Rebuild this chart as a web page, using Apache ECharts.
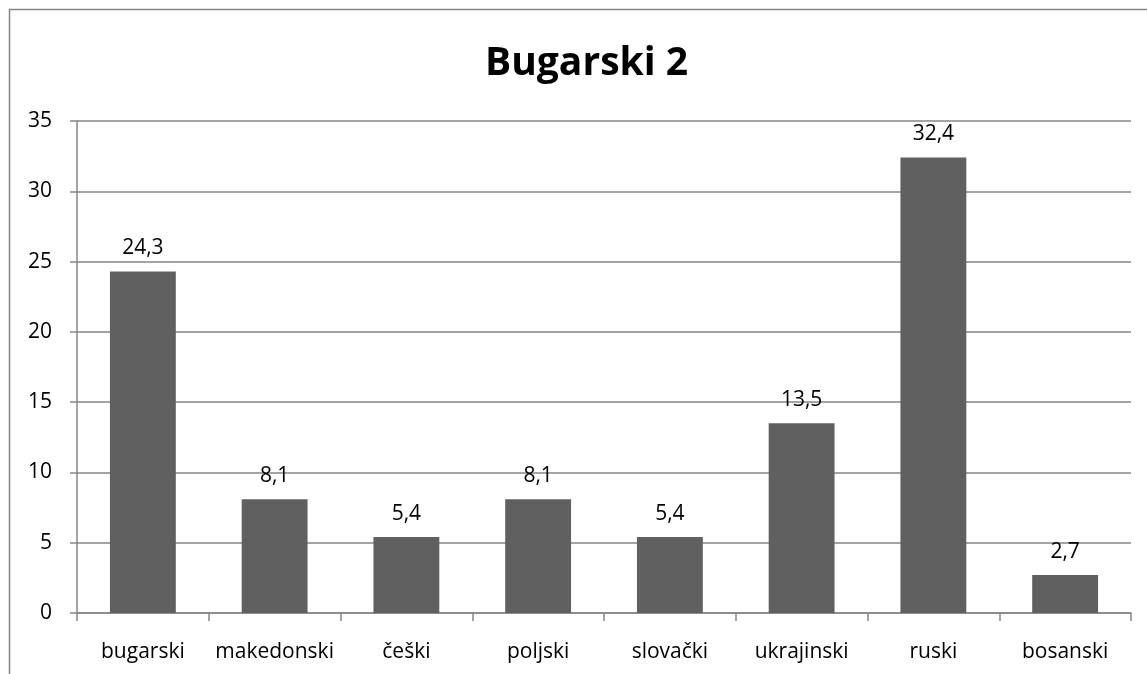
<!DOCTYPE html>
<html>
<head>
<meta charset="utf-8">
<script src="https://cdn.jsdelivr.net/npm/echarts@6/dist/echarts.min.js"></script>
<style>
html, body { margin: 0; padding: 0; background: #fff; }
#main { width: 1147px; height: 674px; }
</style>
</head>
<body>
<div id="main"></div>
<script>
var categories = ['bugarski', 'makedonski', 'češki', 'poljski', 'slovački', 'ukrajinski', 'ruski', 'bosanski'];
var values = [24.3, 8.1, 5.4, 8.1, 5.4, 13.5, 32.4, 2.7];
var yMin = 0, yMax = 35, yStep = 5;

var font = '"Open Sans", "Noto Sans", sans-serif';
var myChart = echarts.init(document.getElementById('main'));

option = {
    animation: false,
    textStyle: { fontFamily: font },
    title: {
        text: 'Bugarski 2',
        left: 480,
        top: 39,
        textStyle: {
            color: '#000',
            fontSize: 39,
            fontWeight: 'bold',
            fontFamily: font
        }
    },
    graphic: [{
        type: 'rect',
        shape: { x: 9.5, y: 9.5, width: 1160, height: 700 },
        style: { fill: null, stroke: '#868686', lineWidth: 1.5 }
    }],
    grid: {
        left: 77,
        right: 16,
        top: 121,
        bottom: 61
    },
    xAxis: {
        type: 'category',
        data: categories,
        axisLine: { lineStyle: { color: '#868686', width: 1.5 } },
        axisTick: { show: true, length: 8, lineStyle: { color: '#868686', width: 1.5 } },
        axisLabel: { color: '#000', fontSize: 21, margin: 29, interval: 0, hideOverlap: false, fontFamily: font }
    },
    yAxis: {
        type: 'value',
        min: yMin,
        max: yMax,
        interval: yStep,
        axisLine: { show: true, lineStyle: { color: '#868686', width: 1.5 } },
        axisTick: { show: true, length: 7, lineStyle: { color: '#868686', width: 1.5 } },
        axisLabel: { color: '#000', fontSize: 21, margin: 25, fontFamily: font },
        splitLine: { lineStyle: { color: '#868686', width: 1.5 } }
    },
    series: [{
        type: 'bar',
        data: values,
        barWidth: '50%',
        itemStyle: { color: '#606060' },
        label: {
            show: true,
            position: 'top',
            distance: 13,
            color: '#000',
            fontSize: 21,
            fontFamily: font,
            formatter: function (p) { return String(p.value).replace('.', ','); }
        }
    }]
};
myChart.setOption(option);
</script>
</body>
</html>
